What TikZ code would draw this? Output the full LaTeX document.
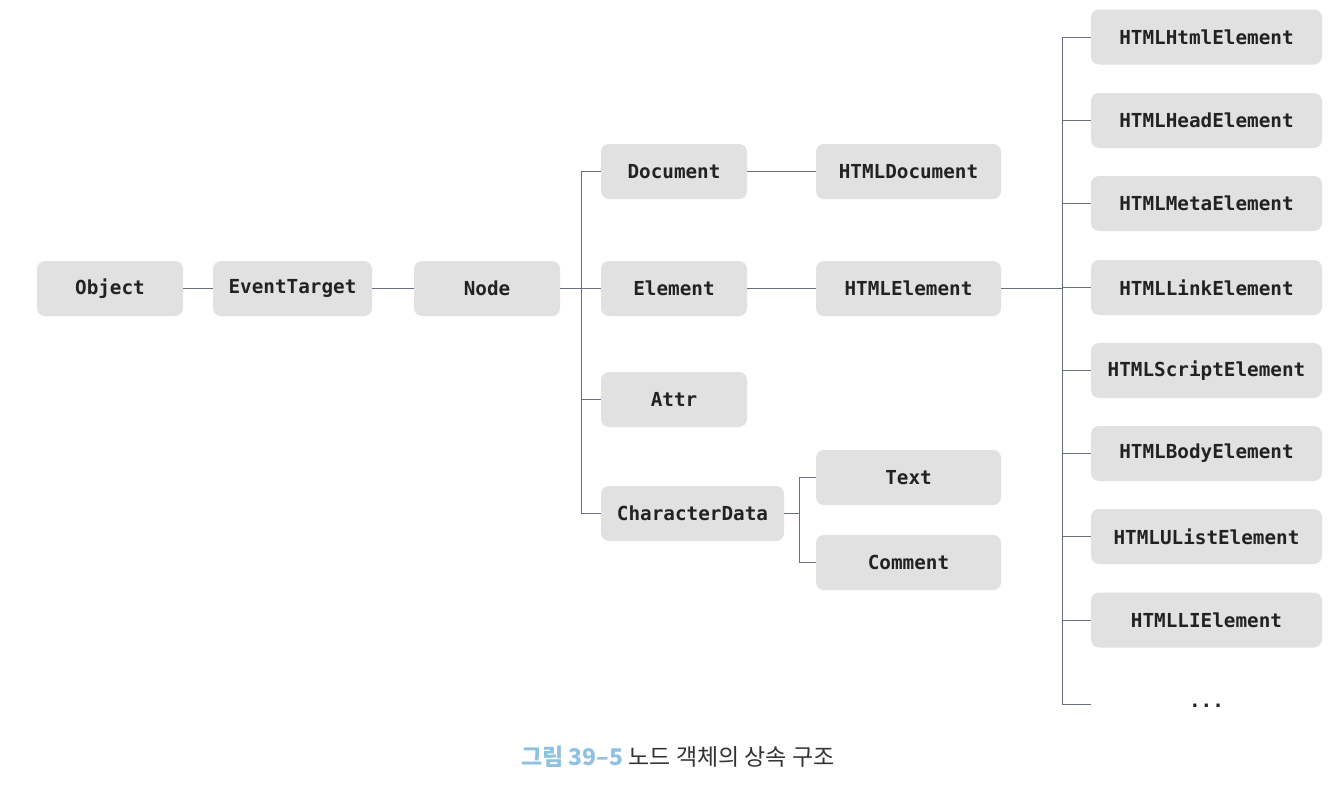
\documentclass[tikz,border=0pt]{standalone}
\usepackage{fontspec}
\setmonofont{DejaVu Sans Mono}
\newfontfamily\cjk{Noto Sans CJK KR}
\definecolor{boxgray}{HTML}{E1E1E1}
\definecolor{linec}{HTML}{66707E}
\definecolor{textdark}{HTML}{222222}
\definecolor{capblue}{HTML}{8FC1E3}
\definecolor{capgray}{HTML}{333333}
\begin{document}
\begin{tikzpicture}[x=1pt,y=-1pt,
  box/.style={fill=boxgray, rounded corners=8pt, minimum height=55pt, inner sep=0pt,
    font=\fontsize{19.3}{21}\selectfont\ttfamily\bfseries, text=textdark},
  link/.style={draw=linec, line width=1pt}]
\useasboundingbox (0,0) rectangle (1336,798);
\fill[white] (0,0) rectangle (1336,798);
% left chain
\node[box, minimum width=146pt] (obj) at (110,288.5) {Object};
\node[box, minimum width=159pt] (et) at (292.5,288.5) {EventTarget};
\node[box, minimum width=146pt] (nd) at (487,288.5) {Node};
% second level
\node[box, minimum width=146pt] (doc) at (674,171.5) {Document};
\node[box, minimum width=146pt] (el) at (674,288.5) {Element};
\node[box, minimum width=146pt] (attr) at (674,399.5) {Attr};
\node[box, minimum width=183pt] (cd) at (692.5,513.5) {CharacterData};
% third level
\node[box, minimum width=185pt] (hdoc) at (908.5,171.5) {HTMLDocument};
\node[box, minimum width=185pt] (hel) at (908.5,288.5) {HTMLElement};
\node[box, minimum width=185pt] (txt) at (908.5,477.5) {Text};
\node[box, minimum width=185pt] (cmt) at (908.5,562.5) {Comment};
% right column
\node[box, minimum width=231pt] (h1) at (1206.5,37) {HTMLHtmlElement};
\node[box, minimum width=231pt] (h2) at (1206.5,120.5) {HTMLHeadElement};
\node[box, minimum width=231pt] (h3) at (1206.5,203.5) {HTMLMetaElement};
\node[box, minimum width=231pt] (h4) at (1206.5,287.5) {HTMLLinkElement};
\node[box, minimum width=231pt] (h5) at (1206.5,370.5) {HTMLScriptElement};
\node[box, minimum width=231pt] (h6) at (1206.5,453.5) {HTMLBodyElement};
\node[box, minimum width=231pt] (h7) at (1206.5,536.5) {HTMLUListElement};
\node[box, minimum width=231pt] (h8) at (1206.5,620) {HTMLLIElement};
\node[font=\fontsize{19.3}{21}\selectfont\ttfamily\bfseries, text=textdark, inner sep=0pt] (dots) at (1206.5,706) {...};
\coordinate (dend) at (1091,704);
% trunks
\coordinate (tr) at (581,0);
\coordinate (tr2) at (1062,0);
\coordinate (tr3) at (799,0);
% connectors
\draw[link] (obj.east) -- (et.west);
\draw[link] (et.east) -- (nd.west);
\draw[link] (nd.east) -- (nd.east -| tr);
\draw[link] (doc.west) -- (doc.west -| tr) -- (cd.west -| tr) -- (cd.west);
\draw[link] (el.west) -- (el.west -| tr);
\draw[link] (attr.west) -- (attr.west -| tr);
\draw[link] (doc.east) -- (hdoc.west);
\draw[link] (el.east) -- (hel.west);
\draw[link] (cd.east) -- (cd.east -| tr3);
\draw[link] (txt.west) -- (txt.west -| tr3) -- (cmt.west -| tr3) -- (cmt.west);
\draw[link] (hel.east) -- (hel.east -| tr2);
\draw[link] (h1.west) -- (h1.west -| tr2) -- (dend -| tr2) -- (dend);
\foreach \n in {h2,h3,h4,h5,h6,h7,h8} \draw[link] (\n.west) -- (\n.west -| tr2);
% caption
\node[inner sep=0pt, text=capgray] (cap) at (678,757)
  {\cjk\fontsize{23}{26}\selectfont{\color{capblue}\bfseries 그림 39–5} 노드 객체의 상속 구조};
\end{tikzpicture}
\end{document}
